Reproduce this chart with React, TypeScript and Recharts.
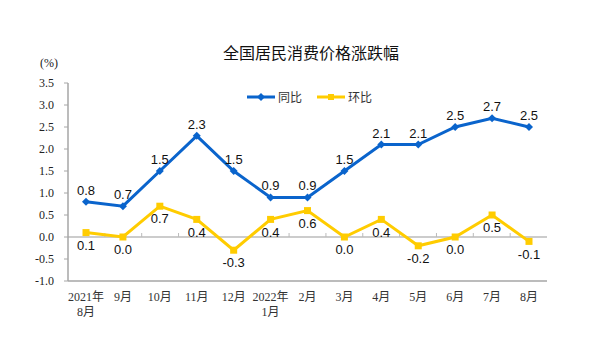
import { CartesianGrid, LabelList, Legend, Line, LineChart, ReferenceLine, XAxis, YAxis } from "recharts";

const months = [
  "2021年8月",
  "9月",
  "10月",
  "11月",
  "12月",
  "2022年1月",
  "2月",
  "3月",
  "4月",
  "5月",
  "6月",
  "7月",
  "8月",
];
const yoy = [0.8, 0.7, 1.5, 2.3, 1.5, 0.9, 0.9, 1.5, 2.1, 2.1, 2.5, 2.7, 2.5];
const mom = [0.1, 0.0, 0.7, 0.4, -0.3, 0.4, 0.6, 0.0, 0.4, -0.2, 0.0, 0.5, -0.1];
const yTicks = [-1.0, -0.5, 0.0, 0.5, 1.0, 1.5, 2.0, 2.5, 3.0, 3.5];

const BLUE = "#0A64CC";
const YELLOW = "#FFCC00";
const FRAME = "#A6A6A6";
const SERIF = "'Liberation Serif', 'Noto Sans CJK SC', serif";
const SANS = "'Liberation Sans', Arial, sans-serif";
const CJK = "'Noto Sans CJK SC', sans-serif";

const rows = months.map((month, i) => ({ month, yoy: yoy[i], mom: mom[i] }));

function MonthTick({ x, y, payload }: any) {
  const label: string = payload.value;
  const idx = label.indexOf("年");
  const lines = idx >= 0 ? [label.slice(0, idx + 1), label.slice(idx + 1)] : [label];
  return (
    <g>
      {lines.map((line, i) => (
        <text
          key={i}
          x={x}
          y={y + 20 + i * 15}
          textAnchor="middle"
          fontSize={12}
          fontFamily={SERIF}
          fill="#333"
        >
          {line}
        </text>
      ))}
    </g>
  );
}

// zero line with small upward ticks between the months
function ZeroLine(props: any) {
  const { x1, x2, y1 } = props;
  const step = (x2 - x1) / months.length;
  const marks = [];
  for (let i = 1; i < months.length; i++) {
    const x = x1 + step * i;
    marks.push(<line key={i} x1={x} x2={x} y1={y1} y2={y1 - 4} stroke="#BBBBBB" strokeWidth={1} />);
  }
  return (
    <g>
      <line x1={x1} x2={x2} y1={y1} y2={y1} stroke="#BBBBBB" strokeWidth={1.5} />
      {marks}
    </g>
  );
}

function Diamond({ cx, cy, index }: any) {
  if (cx == null || cy == null) return <g key={index} />;
  return (
    <path key={index} d={`M${cx},${cy - 4}L${cx + 4},${cy}L${cx},${cy + 4}L${cx - 4},${cy}Z`} fill={BLUE} />
  );
}

function Square({ cx, cy, index }: any) {
  if (cx == null || cy == null) return <g key={index} />;
  return <rect key={index} x={cx - 3.5} y={cy - 3.5} width={7} height={7} fill={YELLOW} />;
}

function renderLegend() {
  const items = [
    { name: "同比", color: BLUE, square: false },
    { name: "环比", color: YELLOW, square: true },
  ];
  return (
    <div style={{ display: "flex", alignItems: "center", fontFamily: CJK, fontSize: 12, color: "#333" }}>
      {items.map((it) => (
        <span key={it.name} style={{ display: "inline-flex", alignItems: "center", marginRight: 15 }}>
          <svg width={28} height={10} style={{ marginRight: 3 }}>
            <line x1={0} x2={28} y1={5} y2={5} stroke={it.color} strokeWidth={3} />
            {it.square ? (
              <rect x={11} y={2} width={6} height={6} fill={it.color} />
            ) : (
              <path d="M14,1L18,5L14,9L10,5Z" fill={it.color} />
            )}
          </svg>
          <span style={{ lineHeight: "16px" }}>{it.name}</span>
        </span>
      ))}
    </div>
  );
}

export default function App() {
  return (
    <div style={{ position: "absolute", left: 0, top: 0, width: 600, height: 356, background: "#fff" }}>
      <div
        style={{
          position: "absolute",
          left: 211,
          top: 41,
          width: 200,
          textAlign: "center",
          fontFamily: CJK,
          fontSize: 16,
          lineHeight: "22px",
          color: "#111",
        }}
      >
        全国居民消费价格涨跌幅
      </div>
      <div
        style={{
          position: "absolute",
          left: 40,
          top: 55,
          fontFamily: SERIF,
          fontSize: 12,
          lineHeight: "16px",
          color: "#222",
        }}
      >
        (%)
      </div>
      <LineChart width={600} height={356} data={rows} margin={{ top: 83, right: 53, bottom: 35, left: 28 }}>
        <CartesianGrid horizontal={false} vertical={false} />
        <XAxis
          dataKey="month"
          interval={0}
          padding={{ left: 18, right: 18 }}
          tickLine={false}
          tickSize={0}
          tickMargin={0}
          axisLine={{ stroke: FRAME, strokeWidth: 1.5 }}
          height={40}
          tick={<MonthTick />}
        />
        <XAxis
          xAxisId="top"
          dataKey="month"
          orientation="top"
          height={0}
          tick={false}
          tickLine={false}
          padding={{ left: 18, right: 18 }}
          axisLine={{ stroke: FRAME, strokeWidth: 1.5 }}
        />
        <YAxis
          type="number"
          domain={[-1, 3.5]}
          ticks={yTicks}
          interval={0}
          width={40}
          tickSize={4}
          tickMargin={10}
          tickFormatter={(v: number) => v.toFixed(1)}
          axisLine={{ stroke: FRAME, strokeWidth: 1.5 }}
          tickLine={{ stroke: FRAME }}
          tick={{ fontSize: 12, fontFamily: SERIF, fill: "#222" }}
        />
        <YAxis
          yAxisId="right"
          orientation="right"
          type="number"
          domain={[-1, 3.5]}
          width={0}
          tick={false}
          tickLine={false}
          axisLine={{ stroke: FRAME, strokeWidth: 1.5 }}
        />
        <ReferenceLine y={0} shape={<ZeroLine />} />
        <Legend
          content={renderLegend}
          layout="horizontal"
          verticalAlign="middle"
          align="center"
          wrapperStyle={{ left: 247, top: 89, width: 160 }}
        />
        <Line
          type="linear"
          dataKey="yoy"
          name="同比"
          stroke={BLUE}
          strokeWidth={3}
          dot={Diamond}
          activeDot={false}
          isAnimationActive={false}
        >
          <LabelList
            dataKey="yoy"
            position="top"
            offset={7}
            formatter={(v: any) => Number(v).toFixed(1)}
            fontSize={13}
            fontFamily={SANS}
            fill="#111"
          />
        </Line>
        <Line
          type="linear"
          dataKey="mom"
          name="环比"
          stroke={YELLOW}
          strokeWidth={3}
          dot={Square}
          activeDot={false}
          isAnimationActive={false}
        >
          <LabelList
            dataKey="mom"
            position="bottom"
            offset={8}
            formatter={(v: any) => Number(v).toFixed(1)}
            fontSize={13}
            fontFamily={SANS}
            fill="#111"
          />
        </Line>
      </LineChart>
    </div>
  );
}
